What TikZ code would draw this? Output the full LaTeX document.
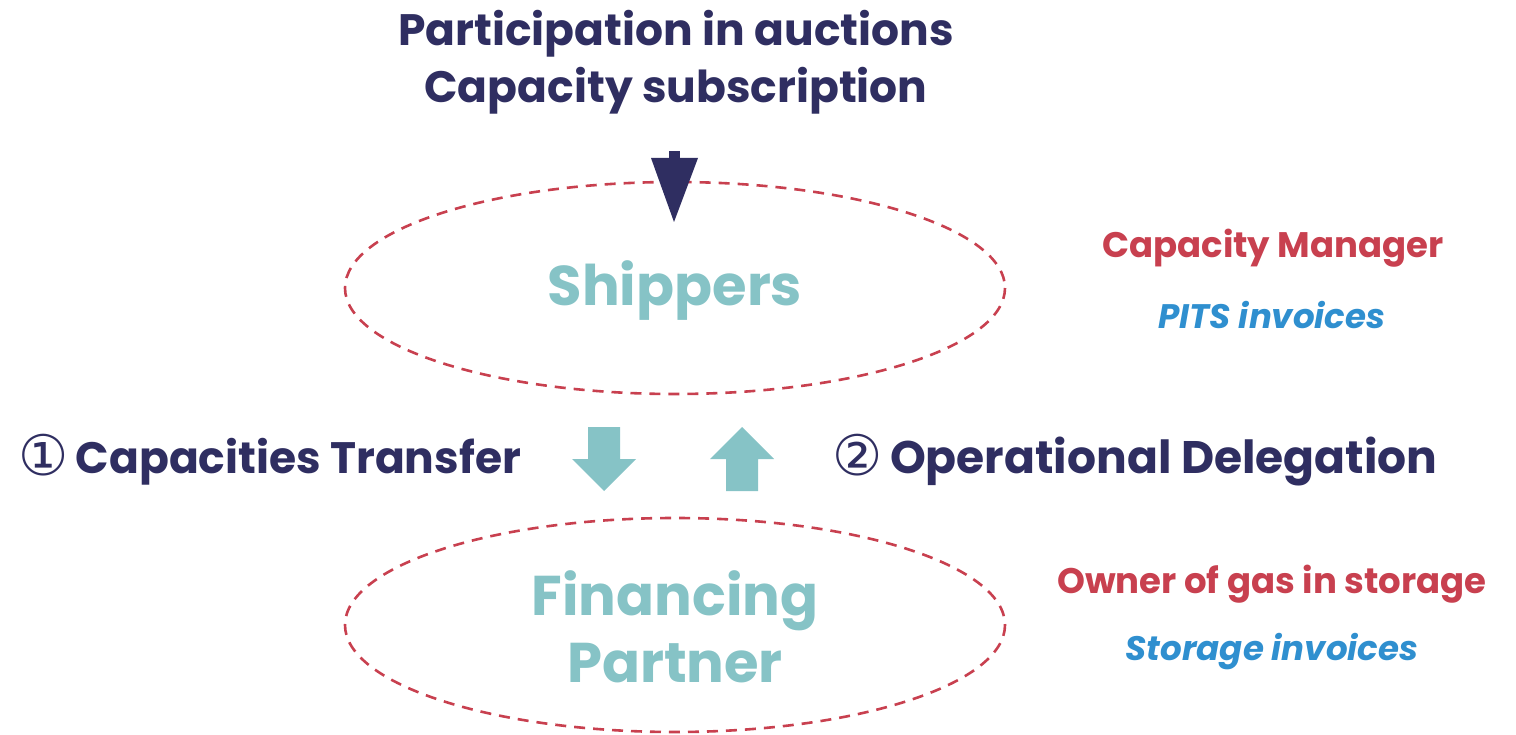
\documentclass[tikz,border=0pt]{standalone}
\usepackage{fontspec}
\setmainfont{Poppins}
\newfontfamily\symfont{DejaVu Sans}
\definecolor{navy}{HTML}{2F2E61}
\definecolor{teal}{HTML}{86C3C6}
\definecolor{rred}{HTML}{C8404F}
\definecolor{bblue}{HTML}{2F8FCF}
\begin{document}
\begin{tikzpicture}[x=1pt,y=-1pt,
  ell/.style={draw=rred,line width=2.6pt,dash pattern=on 11pt off 8pt},
  navytxt/.style={text=navy,font=\bfseries\fontsize{44}{52}\selectfont,inner sep=0pt},
  numa/.style={text=navy,font=\bfseries\fontsize{44}{52}\selectfont,inner sep=0pt},
  numb/.style={text=navy,font=\bfseries\fontsize{45.6}{52}\selectfont,inner sep=0pt},
  ent/.style={text=teal,font=\bfseries\fontsize{56}{70}\selectfont,inner sep=0pt,align=center},
  role/.style={text=rred,font=\bfseries\fontsize{35.5}{42}\selectfont,inner sep=0pt},
  inv/.style={text=bblue,font=\bfseries\itshape\fontsize{34}{40}\selectfont,inner sep=0pt},
  blk/.style={fill=teal,draw=none}]
\useasboundingbox (0,0) rectangle (1516,735);
% ellipses
\draw[ell] (675,288) ellipse [x radius=330, y radius=106];
\draw[ell] (675,625) ellipse [x radius=330, y radius=107];
% title
\node[navytxt] (t1) at (676,34) {Participation in auctions};
\node[navytxt] (t2) at (676,91) {Capacity subscription};
% top arrow
\fill[navy] (669,151) rectangle (680,158);
\fill[navy] (651,158) -- (698,158) -- (674,222) -- cycle;
% entities
\node[ent] (ship) at (675,291) {Shippers};
\node[ent] (fin) at (675,627) {Financing\\[-3pt]Partner};
% block arrows
\fill[blk] (588,427) -- (620,427) -- (620,459) -- (636,459) -- (604,491) -- (572,459) -- (588,459) -- cycle;
\fill[blk] (742,427) -- (774,459) -- (758,459) -- (758,491) -- (726,491) -- (726,459) -- (710,459) -- cycle;
% labels
\node[numa,anchor=west] (l1) at (18,460) {{\symfont\mdseries\fontsize{56}{60}\selectfont\raisebox{-2pt}{①}}\,Capacities Transfer};
\node[numb,anchor=west] (l2) at (832,460) {{\symfont\mdseries\fontsize{56}{60}\selectfont\raisebox{-2pt}{②}}\,Operational Delegation};
\node[role] (r1) at (1273,248) {Capacity Manager};
\node[inv] (i1) at (1272,315) {PITS invoices};
\node[role] (r2) at (1272,584) {Owner of gas in storage};
\node[inv] (i2) at (1272,652) {Storage invoices};
\end{tikzpicture}
\end{document}
